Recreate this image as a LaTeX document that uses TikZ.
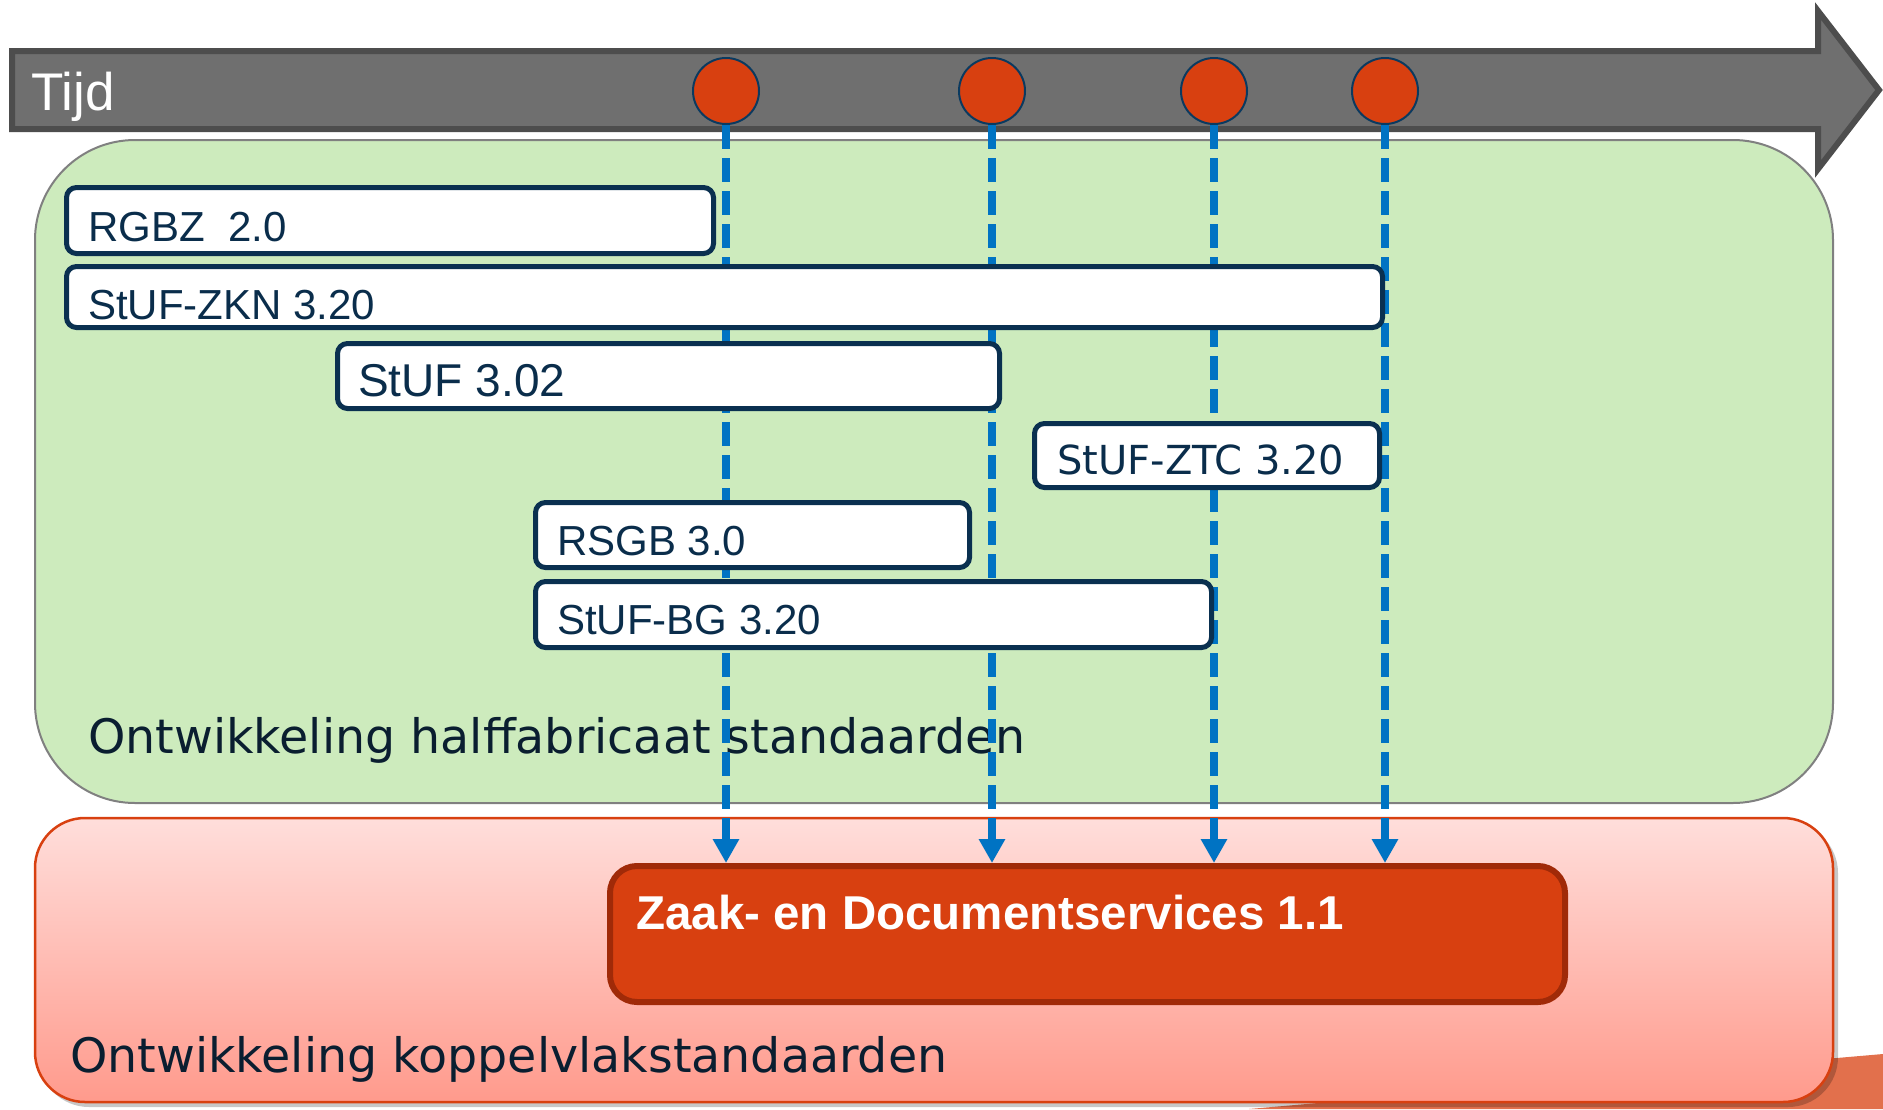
\documentclass[tikz,border=0pt]{standalone}
\usepackage{fontspec}
\setmainfont{Liberation Sans}
\newfontfamily\dejavu{DejaVu Sans}
\usetikzlibrary{arrows.meta}
\definecolor{arrowfill}{RGB}{111,111,111}
\definecolor{arrowline}{RGB}{77,77,77}
\definecolor{dotred}{RGB}{216,64,16}
\definecolor{dotline}{RGB}{10,58,96}
\definecolor{greenfill}{RGB}{205,235,189}
\definecolor{greenline}{RGB}{128,128,128}
\definecolor{redtop}{RGB}{255,222,219}
\definecolor{redbot}{RGB}{255,154,140}
\definecolor{redline}{RGB}{216,64,16}
\definecolor{wedge}{RGB}{226,112,76}
\definecolor{boxline}{RGB}{10,48,80}
\definecolor{boxtext}{RGB}{10,45,75}
\definecolor{areatext}{RGB}{10,30,48}
\definecolor{zaakline}{RGB}{160,42,8}
\definecolor{dashblue}{RGB}{0,115,195}
\tikzset{
  stdbox/.style={draw=boxline, line width=5pt, fill=white, rounded corners=10pt,
    anchor=north west, inner sep=0pt},
  boxlabel/.style={anchor=base west, inner sep=0pt, text=boxtext,
    font=\fontsize{42}{50}\selectfont},
  arealabel/.style={anchor=base west, inner sep=0pt, text=areatext,
    font=\dejavu\fontsize{47.5}{56}\selectfont},
  circ/.style={circle, minimum size=66pt, inner sep=0pt, fill=dotred, draw=dotline, line width=2pt},
  dl/.style={draw=dashblue, line width=7.5pt, dash pattern=on 24pt off 9pt,
    -{Triangle[width=25pt,length=24pt]}}
}
\begin{document}
\begin{tikzpicture}[x=1pt,y=-1pt]
\useasboundingbox (0,0) rectangle (1883,1109);
\fill[white] (0,0) rectangle (1883,1109);
% orange wedge bottom right
\fill[wedge] (1249,1109) -- (1883,1054) -- (1883,1109) -- cycle;
% green area
\draw[fill=greenfill, draw=greenline, line width=2pt, rounded corners=100pt]
  (35,140) rectangle (1833,803);
% red area
\fill[black, opacity=0.22, rounded corners=50pt] (39,823) rectangle (1838,1107);
\draw[draw=redline, line width=2.5pt, top color=redtop, bottom color=redbot, rounded corners=50pt]
  (35,818) rectangle (1833,1102);
% time arrow
\draw[fill=arrowfill, draw=arrowline, line width=6pt, line join=miter]
  (12,51) -- (1818,51) -- (1818,11) -- (1879,90) -- (1818,169) -- (1818,129) -- (12,129) -- cycle;
\node[anchor=base west, inner sep=0pt, text=white, font=\fontsize{53}{60}\selectfont] (tijd) at (31,110) {Tijd};
% milestones
\node[circ] (c1) at (726,91) {};
\node[circ] (c2) at (992,91) {};
\node[circ] (c3) at (1214,91) {};
\node[circ] (c4) at (1385,91) {};
% area labels
\node[arealabel] (halff) at (88,753) {Ontwikkeling halffabricaat standaarden};
\node[arealabel] (koppel) at (70,1072) {Ontwikkeling koppelvlakstandaarden};
% target box
\node[draw=zaakline, fill=dotred, line width=6pt, rounded corners=27pt, anchor=north west,
  minimum width=955pt, minimum height=136pt, inner sep=0pt] (zaak) at (607,863) {};
\node[anchor=base west, inner sep=0pt, text=white, font=\bfseries\fontsize{47.5}{56}\selectfont]
  (zaaktxt) at (636,929) {Zaak- en Documentservices 1.1};
% dashed connectors
\draw[dl] (c1.south) -- (c1.south |- zaak.north);
\draw[dl] (c2.south) -- (c2.south |- zaak.north);
\draw[dl] (c3.south) -- (c3.south |- zaak.north);
\draw[dl] (c4.south) -- (c4.south |- zaak.north);
% standard boxes (anchored at outer edge)
\node[stdbox, minimum width=647pt, minimum height=66pt] (rgbz) at (64,185) {};
\node[boxlabel] (rgbzt) at (88,241) {RGBZ\ \ 2.0};
\node[stdbox, minimum width=1316pt, minimum height=61pt] (zkn) at (64,264) {};
\node[boxlabel] (zknt) at (88,319) {StUF-ZKN 3.20};
\node[stdbox, minimum width=662pt, minimum height=65pt] (stuf) at (335,341) {};
\node[boxlabel, font=\fontsize{46}{54}\selectfont] (stuft) at (358,396) {StUF 3.02};
\node[stdbox, minimum width=345pt, minimum height=64pt] (ztc) at (1032,421) {};
\node[boxlabel, font=\dejavu\fontsize{40}{48}\selectfont] (ztct) at (1057,474) {StUF-ZTC 3.20};
\node[stdbox, minimum width=434pt, minimum height=65pt] (rsgb) at (533,500) {};
\node[boxlabel] (rsgbt) at (557,555) {RSGB 3.0};
\node[stdbox, minimum width=676pt, minimum height=66pt] (bg) at (533,579) {};
\node[boxlabel] (bgt) at (557,634) {StUF-BG 3.20};
\end{tikzpicture}
\end{document}
